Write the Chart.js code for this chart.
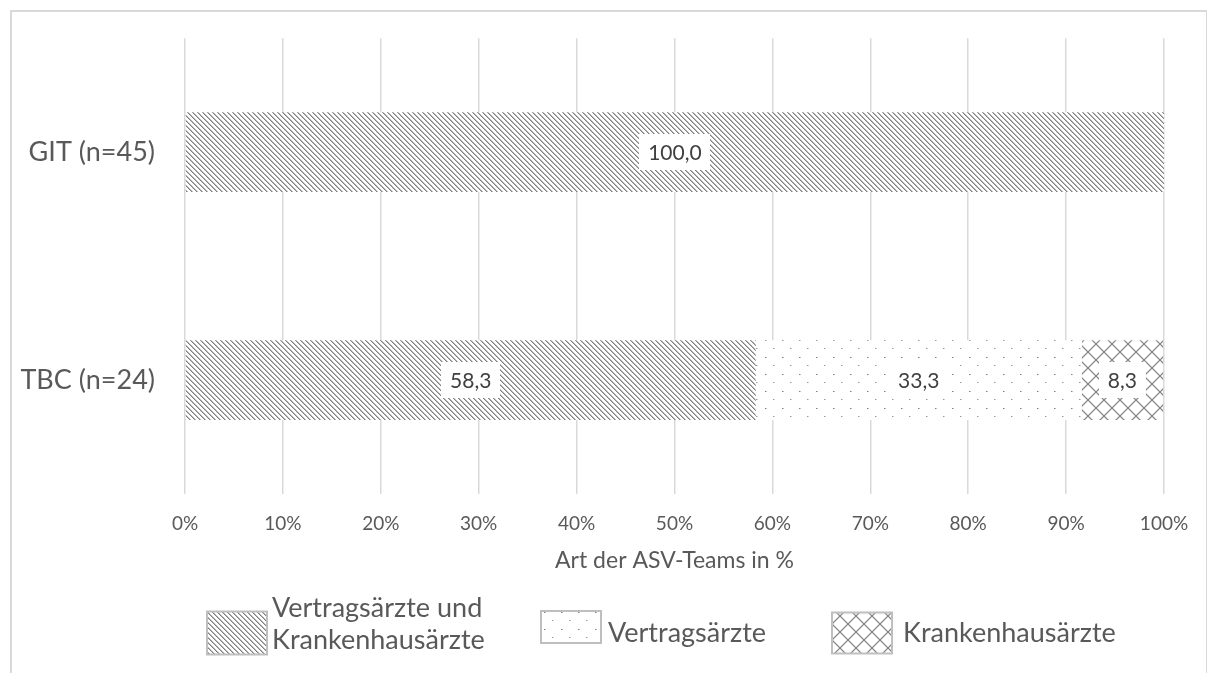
<!DOCTYPE html>
<html>
<head>
<meta charset="utf-8">
<script src="https://cdn.jsdelivr.net/npm/chart.js@4"></script>
<style>
  html, body { margin: 0; padding: 0; background: #fff; }
  #frame { position: absolute; left: 10px; top: 10px; width: 1194px; height: 700px; border: 2px solid #d9d9d9; border-right-width: 1px; }
  #wrap { position: absolute; left: 0; top: 0; width: 1209px; height: 673px; }
</style>
</head>
<body>
<div id="frame"></div>
<div id="wrap"><canvas id="chart" width="1209" height="673"></canvas></div>
<script>
// categories + series (percent)
const categories = ['GIT (n=45)', 'TBC (n=24)'];
const seriesNames = ['Vertragsärzte und Krankenhausärzte', 'Vertragsärzte', 'Krankenhausärzte'];
const beideValues = [100.0, 58.3];
const vertragValues = [0, 33.3];
const krankenhausValues = [0, 8.3];
const xTicks = [0, 10, 20, 30, 40, 50, 60, 70, 80, 90, 100];

const FONT = 'Lato, "Open Sans", sans-serif';

// hatch patterns built pixel by pixel
function makePattern(w, h, fn) {
  const c = document.createElement('canvas');
  c.width = w; c.height = h;
  const g = c.getContext('2d');
  const img = g.createImageData(w, h);
  for (let y = 0; y < h; y++) {
    for (let x = 0; x < w; x++) {
      const v = fn(x, y);
      const i = (y * w + x) * 4;
      img.data[i] = v; img.data[i + 1] = v; img.data[i + 2] = v; img.data[i + 3] = 255;
    }
  }
  g.putImageData(img, 0, 0);
  return g.createPattern(c, 'repeat');
}

const ctx = document.getElementById('chart').getContext('2d');

const diagPattern = makePattern(5, 5, (x, y) => {
  const d = ((x - y) % 5 + 5) % 5;
  if (d === 0) return 0x80;
  if (d === 1) return 0xb8;
  return 0xff;
});

const dotPattern = makePattern(17, 17, (x, y) => {
  if (x === 0 && y === 0) return 0x80;
  if (x === 1 && y === 0) return 0xc0;
  if (x === 8 && y === 8) return 0x98;
  if (x === 9 && y === 8) return 0xd0;
  return 0xff;
});

const crossPattern = makePattern(16, 16, (x, y) => {
  if (x === y || x + y === 15) return 0x86;
  if (Math.abs(x - y) === 1 || Math.abs(x + y - 15) === 1) return 0xd0;
  return 0xff;
});

const patterns = [diagPattern, dotPattern, crossPattern];

function fmt(v) {
  return v.toFixed(1).replace('.', ',');
}

// value labels in white boxes
const valueLabels = {
  id: 'valueLabels',
  afterDatasetsDraw(chart) {
    const c = chart.ctx;
    c.save();
    c.font = '21px ' + FONT;
    c.textAlign = 'center';
    c.textBaseline = 'middle';
    chart.data.datasets.forEach((ds, di) => {
      const meta = chart.getDatasetMeta(di);
      meta.data.forEach((bar, i) => {
        const v = ds.data[i];
        if (!v) return;
        const cx = (bar.x + bar.base) / 2;
        const txt = fmt(v);
        const tw = c.measureText(txt).width;
        c.fillStyle = '#ffffff';
        c.fillRect(Math.round(cx - tw / 2 - 9), Math.round(bar.y - 18), Math.round(tw + 18), 36);
        c.fillStyle = '#404040';
        c.fillText(txt, cx, bar.y + 1);
      });
    });
    c.restore();
  }
};

// legend below the axis title
const legendBoxes = {
  id: 'legendBoxes',
  afterDraw(chart) {
    const c = chart.ctx;
    c.save();
    c.font = '27px ' + FONT;
    c.textBaseline = 'middle';
    c.textAlign = 'left';
    const items = [
      { lines: ['Vertragsärzte und', 'Krankenhausärzte'], x: 207, bh: 43, cy: 633, gap: 65 },
      { lines: [seriesNames[1]], x: 541, bh: 32, cy: 627, gap: 67 },
      { lines: [seriesNames[2]], x: 832, bh: 41, cy: 633, gap: 71 }
    ];
    items.forEach((it, k) => {
      const top = it.cy - it.bh / 2;
      c.fillStyle = patterns[k];
      c.fillRect(it.x, top, 60, it.bh);
      c.strokeStyle = '#bfbfbf';
      c.lineWidth = 2;
      c.strokeRect(it.x, top, 60, it.bh);
      c.fillStyle = '#595959';
      const n = it.lines.length;
      it.lines.forEach((ln, j) => {
        const ly = n === 1 ? 633 : 608 + j * 32;
        c.fillText(ln, it.x + it.gap, ly);
      });
    });
    c.restore();
  }
};

new Chart(ctx, {
  type: 'bar',
  data: {
    labels: categories,
    datasets: [
      { label: seriesNames[0], data: beideValues, backgroundColor: diagPattern },
      { label: seriesNames[1], data: vertragValues, backgroundColor: dotPattern },
      { label: seriesNames[2], data: krankenhausValues, backgroundColor: crossPattern }
    ]
  },
  options: {
    indexAxis: 'y',
    responsive: false,
    animation: false,
    devicePixelRatio: 1,
    layout: { padding: { left: 10, right: 45, top: 31, bottom: 99 } },
    datasets: { bar: { barPercentage: 0.35, categoryPercentage: 1, borderWidth: 0 } },
    plugins: { legend: { display: false }, tooltip: { enabled: false } },
    scales: {
      x: {
        stacked: true,
        min: 0,
        max: 100,
        afterBuildTicks(scale) { scale.ticks = xTicks.map(v => ({ value: v })); },
        afterFit(scale) { scale.height = 80; },
        grid: { color: '#d9d9d9', lineWidth: 1.5, drawTicks: false },
        border: { display: false },
        ticks: {
          padding: 18,
          autoSkip: false,
          maxRotation: 0,
          color: '#595959',
          font: { family: FONT, size: 19 },
          callback: v => v + '%'
        },
        title: {
          display: true,
          text: 'Art der ASV-Teams in %',
          color: '#595959',
          font: { family: FONT, size: 23 },
          padding: { top: 10, bottom: 0 }
        }
      },
      y: {
        stacked: true,
        afterFit(scale) { scale.width = 175; },
        grid: { display: false },
        border: { display: false },
        ticks: {
          padding: 22,
          color: '#595959',
          font: { family: FONT, size: 27 }
        }
      }
    }
  },
  plugins: [valueLabels, legendBoxes]
});
</script>
</body>
</html>
